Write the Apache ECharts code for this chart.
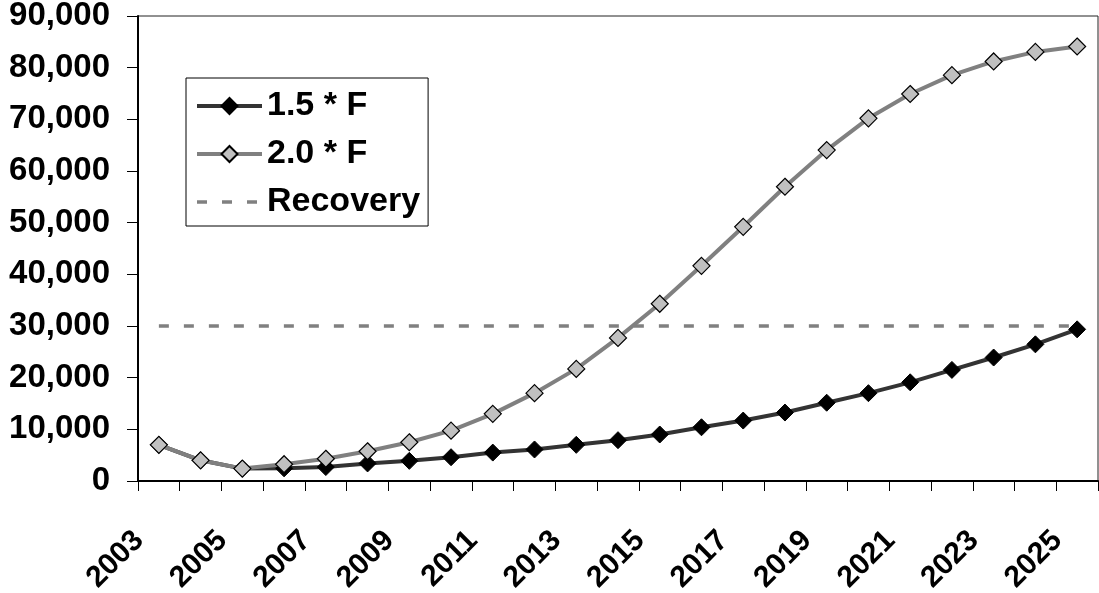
<!DOCTYPE html>
<html>
<head>
<meta charset="utf-8">
<script src="https://cdn.jsdelivr.net/npm/echarts@6/dist/echarts.min.js"></script>
<style>
  html,body{margin:0;padding:0;background:#fff;}
  #chart{width:1099px;height:593px;}
</style>
</head>
<body>
<div id="chart"></div>
<script>
// years on the x axis
var years=['2003','2004','2005','2006','2007','2008','2009','2010','2011','2012','2013','2014',
  '2015','2016','2017','2018','2019','2020','2021','2022','2023','2024','2025'];
// series values
var f15=[7000,4000,2400,2450,2700,3400,3900,4600,5500,6100,7000,7900,
  9000,10400,11700,13250,15150,17000,19100,21500,23900,26450,29350];
var f20=[7000,4000,2400,3250,4300,5750,7500,9750,13000,17000,21700,27700,
  34300,41650,49200,56950,64050,70200,74900,78550,81200,83050,84100];
var recovery=[30000,30000,30000,30000,30000,30000,30000,30000,30000,30000,30000,30000,
  30000,30000,30000,30000,30000,30000,30000,30000,30000,30000,30000];
var yTicks={min:0,max:90000,interval:10000};

var FONT='"Liberation Sans", Arial, sans-serif';
var el=document.getElementById('chart');
var ec=echarts.init(el,null,{renderer:'canvas'});
ec.setOption({
  animation:false,
  backgroundColor:'#fff',
  grid:{left:138,top:16,right:1,bottom:112,show:true,borderColor:'#222',borderWidth:1,
    containLabel:false,outerBoundsMode:'none'},
  legend:{
    data:[
      {name:'1.5 * F',lineStyle:{width:4}},
      {name:'2.0 * F',lineStyle:{width:4}},
      {name:'Recovery',lineStyle:{width:3.5},itemStyle:{opacity:0}}
    ],
    orient:'vertical',left:186,top:78,
    padding:[9,8,5,9],itemGap:10,
    itemWidth:65,itemHeight:20,
    borderColor:'#000',borderWidth:1,backgroundColor:'#fff',
    textStyle:{fontFamily:FONT,fontWeight:'bold',fontSize:34,color:'#000',lineHeight:38}
  },
  xAxis:{
    type:'category',data:years,boundaryGap:true,
    axisLine:{lineStyle:{color:'#000',width:2}},
    axisTick:{show:true,interval:0,length:10,lineStyle:{color:'#000',width:1}},
    axisLabel:{interval:1,rotate:45,margin:35,padding:[0,28,0,0],
      fontFamily:FONT,fontWeight:'bold',fontSize:30,color:'#000'},
    splitLine:{show:false}
  },
  yAxis:{
    type:'value',min:yTicks.min,max:yTicks.max,interval:yTicks.interval,
    axisLine:{show:true,lineStyle:{color:'#000',width:2}},
    axisTick:{show:true,length:11,lineStyle:{color:'#000',width:1}},
    axisLabel:{margin:28,fontFamily:FONT,fontWeight:'bold',fontSize:33,color:'#000',
      formatter:function(v){return v.toLocaleString('en-US');}},
    splitLine:{show:false}
  },
  series:[
    {name:'Recovery',type:'line',data:recovery,symbol:'none',
      lineStyle:{color:'#808080',width:3.5,type:[10,15]},itemStyle:{color:'#808080'},z:1},
    {name:'1.5 * F',type:'line',data:f15,symbol:'diamond',symbolSize:17,
      lineStyle:{color:'#333',width:4},itemStyle:{color:'#000',borderColor:'#000',borderWidth:1},z:2},
    {name:'2.0 * F',type:'line',data:f20,symbol:'diamond',symbolSize:17,
      lineStyle:{color:'#808080',width:4},itemStyle:{color:'#c0c0c0',borderColor:'#000',borderWidth:1.2},z:3}
  ]
});
</script>
</body>
</html>
